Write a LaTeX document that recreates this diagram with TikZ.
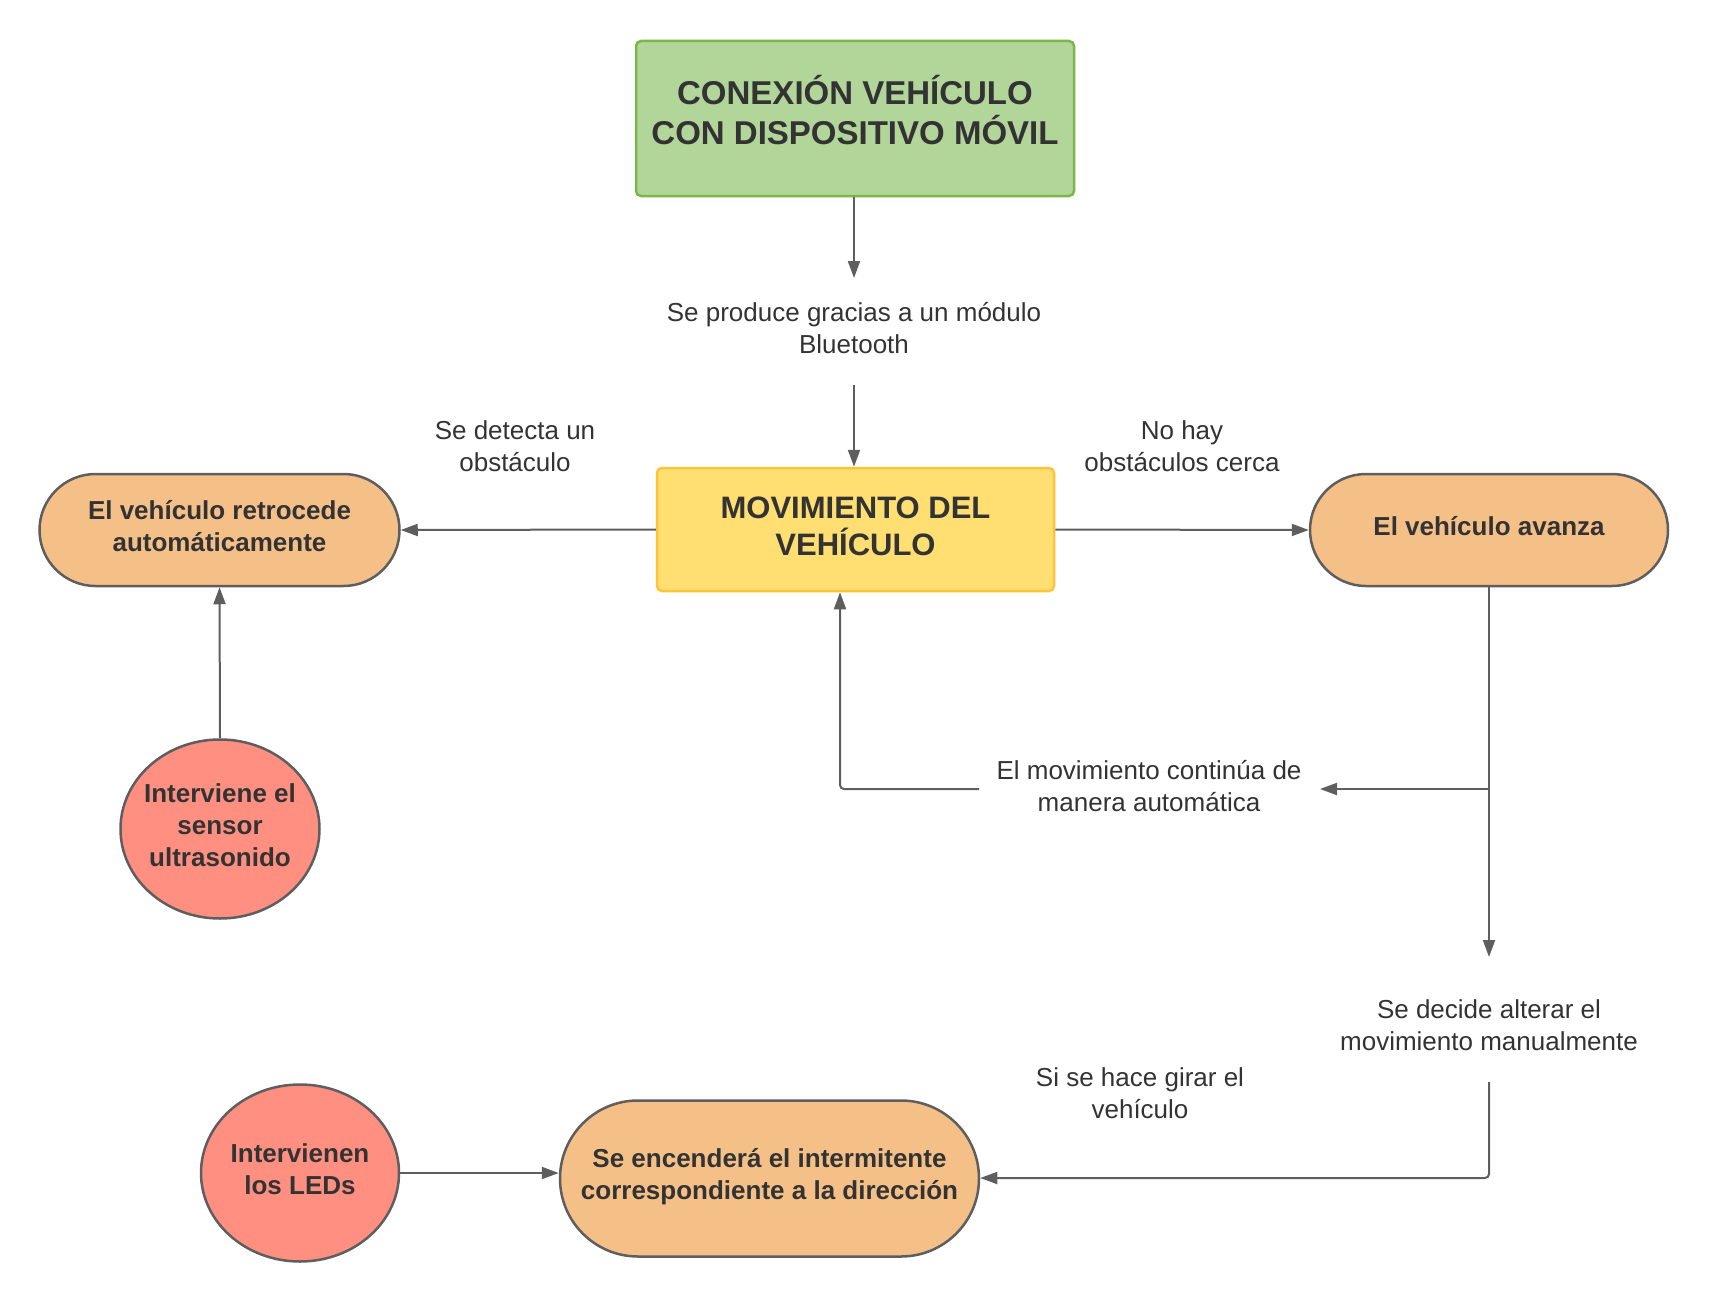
\documentclass[tikz,border=0pt]{standalone}
\usepackage{fontspec}
\setmainfont{Liberation Sans}
\usetikzlibrary{arrows.meta,shapes.geometric}
\definecolor{txt}{HTML}{333333}
\definecolor{ln}{HTML}{5E5E5E}
\definecolor{grfill}{HTML}{B2D59A}
\definecolor{grline}{HTML}{7AB648}
\definecolor{yefill}{HTML}{FFDF71}
\definecolor{yeline}{HTML}{FCC438}
\definecolor{orfill}{HTML}{F5C087}
\definecolor{rdfill}{HTML}{FF8F80}
\begin{document}
\begin{tikzpicture}[x=1pt,y=-1pt,
  titlebox/.style={draw, line width=2.5pt, rounded corners=5pt, inner sep=0pt},
  stadium/.style={draw=ln, fill=orfill, line width=2.5pt, inner sep=0pt},
  roundnode/.style={ellipse, draw=ln, fill=rdfill, line width=2.5pt, inner sep=0pt},
  boldtxt/.style={align=center, text=txt, inner sep=0pt, font=\fontsize{26}{32}\selectfont\bfseries},
  lbl/.style={align=center, text=txt, inner sep=0pt, font=\fontsize{26}{32}\selectfont},
  arr/.style={draw=ln, line width=2pt, -{Triangle[length=17pt,width=12pt]}}
]
\useasboundingbox (0,0) rectangle (1711,1303);

% main boxes
\node[titlebox, draw=grline, fill=grfill, minimum width=438pt, minimum height=155pt] (cbox) at (855,118.5) {};
\node[align=center, text=txt, inner sep=0pt, font=\fontsize{33}{40}\selectfont\bfseries] (cboxt) at (855,110) {CONEXIÓN VEHÍCULO\\CON DISPOSITIVO MÓVIL};
\node[titlebox, draw=yeline, fill=yefill, minimum width=397pt, minimum height=123pt] (mov) at (855.5,529.5) {};
\node[align=center, text=txt, inner sep=0pt, font=\fontsize{31}{37}\selectfont\bfseries] (movt) at (855.5,526) {MOVIMIENTO DEL\\VEHÍCULO};

% stadiums
\node[stadium, rounded corners=56pt, minimum width=360pt, minimum height=112pt] (retro) at (219.5,530) {};
\node[boldtxt] (retrot) at (219.5,526) {El vehículo retrocede\\automáticamente};
\node[stadium, rounded corners=56pt, minimum width=358pt, minimum height=112pt] (avanza) at (1489,530) {};
\node[boldtxt] (avanzat) at (1489,526) {El vehículo avanza};
\node[stadium, rounded corners=78pt, minimum width=419pt, minimum height=156pt] (interm) at (769.5,1178.5) {};
\node[boldtxt] (intermt) at (769.5,1177) {Se encenderá el intermitente\\correspondiente a la dirección};

% circles
\node[roundnode, minimum width=199pt, minimum height=179pt] (sensor) at (220,829) {};
\node[boldtxt] (sensort) at (220,825.5) {Interviene el\\sensor\\ultrasonido};
\node[roundnode, minimum width=198pt, minimum height=177pt] (leds) at (300,1173) {};
\node[boldtxt] (ledst) at (300,1169.5) {Intervienen\\los LEDs};

% labels
\node[lbl] (lbt) at (854,328) {Se produce gracias a un módulo\\Bluetooth};
\node[lbl] (lobs) at (515,446) {Se detecta un\\obstáculo};
\node[lbl] (lno) at (1182,446) {No hay\\obstáculos cerca};
\node[lbl] (lcont) at (1149,786) {El movimiento continúa de\\manera automática};
\node[lbl] (ldec) at (1489,1025) {Se decide alterar el\\movimiento manualmente};
\node[lbl] (lgir) at (1140,1093.5) {Si se hace girar el\\vehículo};

% coordinates
\coordinate (c1) at (854,278);
\coordinate (c2) at (854,385);
\coordinate (br) at (1489,789);
\coordinate (c3) at (1489,957);
\coordinate (c4) at (1320,789);
\coordinate (c5) at (979,789);
\coordinate (c6) at (840,789);
\coordinate (c7) at (1489,1082);
\coordinate (c8) at (1489,1178);

% connectors
\draw[arr] (cbox.south -| c1) -- (c1);
\draw[arr] (c2) -- (mov.north -| c2);
\draw[arr] (mov.west) -- (retro.east);
\draw[arr] (mov.east) -- (avanza.west);
\draw[arr] (sensor.north) -- (retro.south);
\draw[arr] (avanza.south) -- (c3);
\draw[arr] (br) -- (c4);
\draw[arr, rounded corners=4pt] (c5) -- (c6) -- (mov.south -| c6);
\draw[arr, rounded corners=4pt] (c7) -- (c8) -- (interm.east |- c8);
\draw[arr] (leds.east) -- (interm.west |- leds.east);
\end{tikzpicture}
\end{document}
